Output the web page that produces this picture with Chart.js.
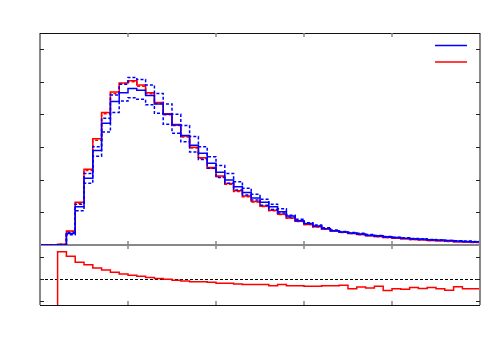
<!DOCTYPE html>
<html>
<head>
<meta charset="utf-8">
<script src="https://cdn.jsdelivr.net/npm/chart.js@4.4.0/dist/chart.umd.min.js"></script>
<style>
  html, body { margin: 0; padding: 0; background: #fff; }
  #myChart { display: block; }
</style>
</head>
<body>
<canvas id="myChart" width="500" height="350"></canvas>
<script>
// bin edges of the histogram (50 bins)
const binEdges = [0, 0.1, 0.2, 0.3, 0.4, 0.5, 0.6, 0.7, 0.8, 0.9,
  1.0, 1.1, 1.2, 1.3, 1.4, 1.5, 1.6, 1.7, 1.8, 1.9,
  2.0, 2.1, 2.2, 2.3, 2.4, 2.5, 2.6, 2.7, 2.8, 2.9,
  3.0, 3.1, 3.2, 3.3, 3.4, 3.5, 3.6, 3.7, 3.8, 3.9,
  4.0, 4.1, 4.2, 4.3, 4.4, 4.5, 4.6, 4.7, 4.8, 4.9, 5.0];

const blueNominal = [0, 0, 0.01, 0.35, 1.17, 2.04, 2.89, 3.73, 4.39, 4.66,
  4.79, 4.74, 4.58, 4.32, 4.00, 3.67, 3.35, 3.05, 2.81, 2.50,
  2.23, 1.99, 1.78, 1.61, 1.44, 1.31, 1.17, 1.02, 0.89, 0.74,
  0.66, 0.58, 0.50, 0.44, 0.40, 0.37, 0.34, 0.30, 0.28, 0.25,
  0.23, 0.21, 0.19, 0.18, 0.16, 0.15, 0.14, 0.12, 0.11, 0.10];

const blueUp = [0, 0, 0.01, 0.38, 1.25, 2.19, 3.01, 3.88, 4.59, 4.92,
  5.13, 5.07, 4.90, 4.64, 4.32, 4.00, 3.66, 3.32, 3.01, 2.70,
  2.43, 2.19, 1.94, 1.74, 1.55, 1.40, 1.25, 1.11, 0.91, 0.79,
  0.68, 0.61, 0.53, 0.46, 0.41, 0.38, 0.36, 0.32, 0.29, 0.26,
  0.24, 0.22, 0.20, 0.18, 0.17, 0.15, 0.14, 0.13, 0.12, 0.11];

const blueDown = [0, 0, 0.01, 0.31, 1.05, 1.89, 2.72, 3.46, 4.06, 4.41,
  4.51, 4.46, 4.29, 4.03, 3.70, 3.42, 3.16, 2.85, 2.62, 2.35,
  2.07, 1.89, 1.68, 1.53, 1.38, 1.22, 1.09, 0.98, 0.86, 0.75,
  0.66, 0.58, 0.51, 0.44, 0.40, 0.36, 0.33, 0.29, 0.27, 0.24,
  0.22, 0.20, 0.18, 0.17, 0.15, 0.14, 0.13, 0.11, 0.10, 0.09];

const redNominal = [0, 0, 0.02, 0.43, 1.31, 2.32, 3.25, 4.06, 4.68, 4.96,
  5.03, 4.90, 4.66, 4.36, 4.02, 3.69, 3.34, 2.99, 2.67, 2.37,
  2.11, 1.88, 1.66, 1.50, 1.33, 1.19, 1.06, 0.94, 0.83, 0.73,
  0.63, 0.56, 0.49, 0.43, 0.39, 0.35, 0.32, 0.28, 0.26, 0.23,
  0.21, 0.19, 0.17, 0.16, 0.14, 0.13, 0.12, 0.10, 0.09, 0.085];

const redAlt = [0, 0, 0.02, 0.41, 1.28, 2.28, 3.21, 4.02, 4.64, 4.93,
  5.00, 4.86, 4.63, 4.33, 3.99, 3.66, 3.31, 2.97, 2.65, 2.35,
  2.09, 1.86, 1.64, 1.48, 1.32, 1.18, 1.05, 0.93, 0.82, 0.72,
  0.63, 0.55, 0.48, 0.43, 0.38, 0.35, 0.31, 0.28, 0.25, 0.23,
  0.21, 0.19, 0.17, 0.15, 0.14, 0.13, 0.11, 0.10, 0.09, 0.08];

// ratio panel (red / blue)
const ratioValues = [0, 0, 1.62, 1.52, 1.38, 1.32, 1.25, 1.20, 1.15, 1.11,
  1.08, 1.06, 1.03, 1.01, 0.99, 0.97, 0.95, 0.93, 0.93, 0.92,
  0.90, 0.90, 0.88, 0.87, 0.87, 0.87, 0.84, 0.87, 0.84, 0.84,
  0.83, 0.83, 0.84, 0.84, 0.85, 0.77, 0.81, 0.79, 0.83, 0.73,
  0.77, 0.76, 0.80, 0.78, 0.80, 0.77, 0.74, 0.82, 0.77, 0.77];

const xTicks = [1, 2, 3, 4];
const yTicks = [1, 2, 3, 4, 5, 6];
const ratioTicks = [0.5, 1, 1.5];

function toSteps(values){
  return binEdges.map(function(x, i){
    return {x: x, y: values[Math.min(i, values.length - 1)]};
  });
}

const BLUE = 'rgb(0,0,255)';
const RED = 'rgb(255,0,0)';

const framePlugin = {
  id: 'frame',
  beforeDatasetsDraw: function(chart){
    const ctx = chart.ctx;
    const area = chart.chartArea;
    const ys = chart.scales.y;
    const rs = chart.scales.y2;

    ctx.save();
    // panel separator (lines are drawn over it)
    ctx.strokeStyle = '#888';
    ctx.lineWidth = 2;
    ctx.beginPath();
    ctx.moveTo(area.left, ys.bottom);
    ctx.lineTo(area.right, ys.bottom);
    ctx.stroke();

    // ratio = 1 reference line
    ctx.strokeStyle = '#000';
    ctx.lineWidth = 1;
    ctx.setLineDash([3, 2]);
    const one = Math.round(rs.getPixelForValue(1)) + 0.5;
    ctx.beginPath();
    ctx.moveTo(area.left, one);
    ctx.lineTo(area.right, one);
    ctx.stroke();
    ctx.setLineDash([]);
    ctx.restore();
  },
  afterDatasetsDraw: function(chart){
    const ctx = chart.ctx;
    const area = chart.chartArea;
    const xs = chart.scales.x;
    const ys = chart.scales.y;
    const rs = chart.scales.y2;
    const split = ys.bottom;

    ctx.save();
    // gray sides
    ctx.strokeStyle = '#888';
    ctx.lineWidth = 2;
    ctx.beginPath();
    ctx.moveTo(area.left, area.top);
    ctx.lineTo(area.left, area.bottom);
    ctx.moveTo(area.right, area.top);
    ctx.lineTo(area.right, area.bottom);
    ctx.stroke();

    // black top and bottom
    ctx.strokeStyle = '#111';
    ctx.lineWidth = 1;
    ctx.beginPath();
    ctx.moveTo(area.left, area.top + 0.5);
    ctx.lineTo(area.right, area.top + 0.5);
    ctx.moveTo(area.left, area.bottom + 0.5);
    ctx.lineTo(area.right, area.bottom + 0.5);
    ctx.stroke();

    // x ticks
    ctx.strokeStyle = '#888';
    ctx.lineWidth = 1.5;
    ctx.beginPath();
    for(let t of xTicks){
      const px = xs.getPixelForValue(t);
      ctx.moveTo(px, area.top);
      ctx.lineTo(px, area.top + 4);
      ctx.moveTo(px, split - 4);
      ctx.lineTo(px, split + 4);
      ctx.moveTo(px, area.bottom - 4);
      ctx.lineTo(px, area.bottom);
    }
    ctx.stroke();

    // y ticks
    ctx.strokeStyle = '#222';
    ctx.lineWidth = 1;
    ctx.beginPath();
    for(let t of yTicks){
      const py = Math.round(ys.getPixelForValue(t)) + 0.5;
      ctx.moveTo(area.left, py);
      ctx.lineTo(area.left + 4, py);
      ctx.moveTo(area.right - 4, py);
      ctx.lineTo(area.right, py);
    }
    for(let t of ratioTicks){
      const py = Math.round(rs.getPixelForValue(t)) + 0.5;
      ctx.moveTo(area.left, py);
      ctx.lineTo(area.left + 4, py);
      ctx.moveTo(area.right - 4, py);
      ctx.lineTo(area.right, py);
    }
    ctx.stroke();

    // legend lines (no labels)
    const legend = [BLUE, RED];
    ctx.lineWidth = 1.5;
    legend.forEach(function(color, i){
      const py = area.top + 12.5 + i * 16.5;
      ctx.strokeStyle = color;
      ctx.beginPath();
      ctx.moveTo(area.right - 45, py);
      ctx.lineTo(area.right - 13, py);
      ctx.stroke();
    });
    ctx.restore();
  }
};

function histDataset(values, color, dashed, axis){
  return {
    data: toSteps(values),
    borderColor: color,
    borderWidth: 1.5,
    borderDash: dashed ? [3, 2] : [],
    stepped: 'before',
    pointRadius: 0,
    fill: false,
    yAxisID: axis
  };
}

const app = {
  initChart: function(){
    const thisApp = this;
    thisApp.ctx = document.getElementById('myChart').getContext('2d');
    // eslint-disable-next-line no-undef
    thisApp.chart = new Chart(thisApp.ctx, {
      type: 'line',
      data: {
        datasets: [
          histDataset(blueUp, BLUE, true, 'y'),
          histDataset(blueDown, BLUE, true, 'y'),
          histDataset(blueNominal, BLUE, false, 'y'),
          histDataset(redAlt, RED, true, 'y'),
          histDataset(redNominal, RED, false, 'y'),
          histDataset(ratioValues, RED, false, 'y2')
        ]
      },
      options: {
        responsive: false,
        animation: false,
        devicePixelRatio: 1,
        layout: { padding: { left: 40, right: 20, top: 33, bottom: 45 } },
        plugins: { legend: { display: false }, tooltip: { enabled: false } },
        scales: {
          x: { type: 'linear', min: 0, max: 5, display: false },
          y: { type: 'linear', min: 0, max: 6.49, display: false, position: 'left', stack: 'panels', stackWeight: 212, weight: 2 },
          y2: { type: 'linear', min: 0.4, max: 1.775, display: false, position: 'left', stack: 'panels', stackWeight: 60, weight: 1 }
        }
      },
      plugins: [framePlugin]
    });
  },

  init: function(){
    this.initChart();
  }
};

app.init();
</script>
</body>
</html>
